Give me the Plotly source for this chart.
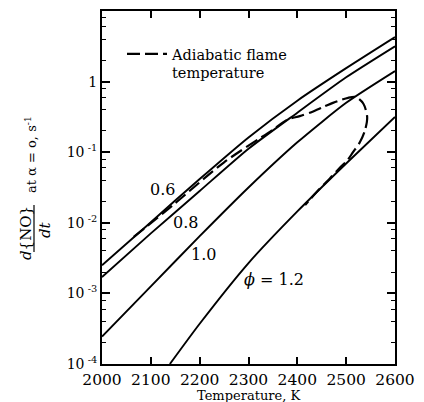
import math
import plotly.graph_objects as go

# ---- data ----
temps = [2000, 2100, 2200, 2300, 2400, 2500, 2600]
rate_phi06 = [2.51e-3, 1.02e-2, 4.17e-2, 0.162, 0.537, 1.55, 4.27]
rate_phi08 = [1.70e-3, 7.08e-3, 2.82e-2, 0.112, 0.363, 1.15, 3.16]
rate_phi10 = [2.45e-4, 1.26e-3, 6.46e-3, 3.16e-2, 0.138, 0.501, 1.41]
temps_phi12 = [2139, 2200, 2300, 2400, 2500, 2600]
rate_phi12 = [1.0e-4, 3.72e-4, 2.69e-3, 1.45e-2, 6.92e-2, 0.316]

adiab_T = [2065, 2150, 2250, 2348, 2379, 2405, 2430, 2453, 2473, 2504, 2520,
           2535, 2543, 2539, 2528, 2514, 2502, 2487, 2467, 2440, 2416]
adiab_rate = [6.3e-3, 1.9e-2, 7.2e-2, 0.204, 0.288, 0.324, 0.372, 0.437, 0.50,
              0.589, 0.603, 0.49, 0.316, 0.209, 0.138, 0.100, 0.0759, 0.0603,
              0.0427, 0.0275, 0.0178]

curve_labels = ["0.6", "0.8", "1.0", "<i>ϕ</i> = 1.2"]
label_T = [2123, 2170, 2207, 2352]
label_rate = [0.0292, 0.0102, 0.0035, 0.00155]

ytick_vals = [1e-4, 1e-3, 1e-2, 1e-1, 1, 10]
ytick_text = ["10<sup> -4</sup>", "10<sup> -3</sup>", "10<sup> -2</sup>",
              "10<sup> -1</sup>", "1", "10"]
xtick_vals = [2000, 2100, 2200, 2300, 2400, 2500, 2600]

SERIF = "DejaVu Serif"
W, H = 424, 402
OFF = 8  # page body margin in the rendered page
# desired plot area on screen: x 102..395, y 11..364
ML, MT = 102 - OFF, 11 - OFF
PW, PH = 293, 353
MR, MB = W - ML - PW, H - MT - PH


def px(x):
    return (x - OFF - ML) / PW


def py(y):
    return (MT + PH - (y - OFF)) / PH


fig = go.Figure()
line_style = dict(color="black", width=1.9, shape="spline", smoothing=0.6)
for xs, ys in [(temps, rate_phi06), (temps, rate_phi08), (temps, rate_phi10),
               (temps_phi12, rate_phi12)]:
    fig.add_trace(go.Scatter(x=xs, y=ys, mode="lines", line=line_style,
                             showlegend=False, hoverinfo="skip"))

fig.add_trace(go.Scatter(
    x=adiab_T, y=adiab_rate, mode="lines",
    line=dict(color="black", width=2.2, dash="13px,5px", shape="spline", smoothing=0.8),
    name="Adiabatic flame<br>temperature", showlegend=True))

for txt, t, r in zip(curve_labels, label_T, label_rate):
    fig.add_annotation(x=t, y=math.log10(r), xref="x", yref="y", text=txt,
                       showarrow=False, font=dict(family=SERIF, size=16, color="black"),
                       xanchor="center", yanchor="middle")

# y-axis title (rotated fraction)
fig.add_annotation(xref="paper", yref="paper", x=px(26), y=py(233),
                   text="<i>d</i>{NO}", textangle=-90, showarrow=False,
                   font=dict(family=SERIF, size=15, color="black"),
                   xanchor="center", yanchor="middle")
fig.add_annotation(xref="paper", yref="paper", x=px(45), y=py(230),
                   text="<i>dt</i>", textangle=-90, showarrow=False,
                   font=dict(family=SERIF, size=15, color="black"),
                   xanchor="center", yanchor="middle")
fig.add_annotation(xref="paper", yref="paper", x=px(31), y=py(155),
                   text="at α = o, s<sup>-1</sup>", textangle=-90, showarrow=False,
                   font=dict(family=SERIF, size=13, color="black"),
                   xanchor="center", yanchor="middle")
fig.add_shape(type="line", xref="paper", yref="paper",
              x0=px(34), x1=px(34), y0=py(252), y1=py(205),
              line=dict(color="black", width=1.2))

# x-axis title
fig.add_annotation(xref="paper", yref="paper", x=0.5, y=py(395),
                   text="Temperature, K", showarrow=False,
                   font=dict(family=SERIF, size=13, color="black"),
                   xanchor="center", yanchor="middle")

fig.update_xaxes(range=[2000, 2600], tickvals=xtick_vals, ticks="inside",
                 ticklen=7, tickwidth=1.5, tickcolor="black", showline=True,
                 linewidth=2, linecolor="black", mirror="allticks", showgrid=False,
                 zeroline=False, automargin=False,
                 tickfont=dict(family=SERIF, size=15.5, color="black"))
minor_vals = [m * 10 ** e for e in range(-4, 1) for m in (2, 4, 6, 8)]
fig.update_yaxes(type="log", range=[-4, 1], tickvals=ytick_vals, ticktext=ytick_text,
                 ticks="inside", ticklen=8, tickwidth=1.5, tickcolor="black",
                 showline=True, linewidth=2, linecolor="black", mirror="allticks",
                 showgrid=False, zeroline=False, automargin=False,
                 minor=dict(tickvals=minor_vals, ticks="inside", ticklen=4,
                            tickwidth=1, tickcolor="black", showgrid=False),
                 tickfont=dict(family=SERIF, size=14, color="black"))

fig.update_layout(
    width=W, height=H, autosize=False,
    margin=dict(l=ML, r=MR, t=MT, b=MB, autoexpand=False),
    paper_bgcolor="white", plot_bgcolor="white",
    font=dict(family=SERIF, color="black"),
    legend=dict(x=px(122), y=py(38), xanchor="left", yanchor="top",
                bgcolor="rgba(0,0,0,0)", valign="top", itemwidth=40,
                font=dict(family=SERIF, size=14.5, color="black")),
)

fig.write_html("out.html")
